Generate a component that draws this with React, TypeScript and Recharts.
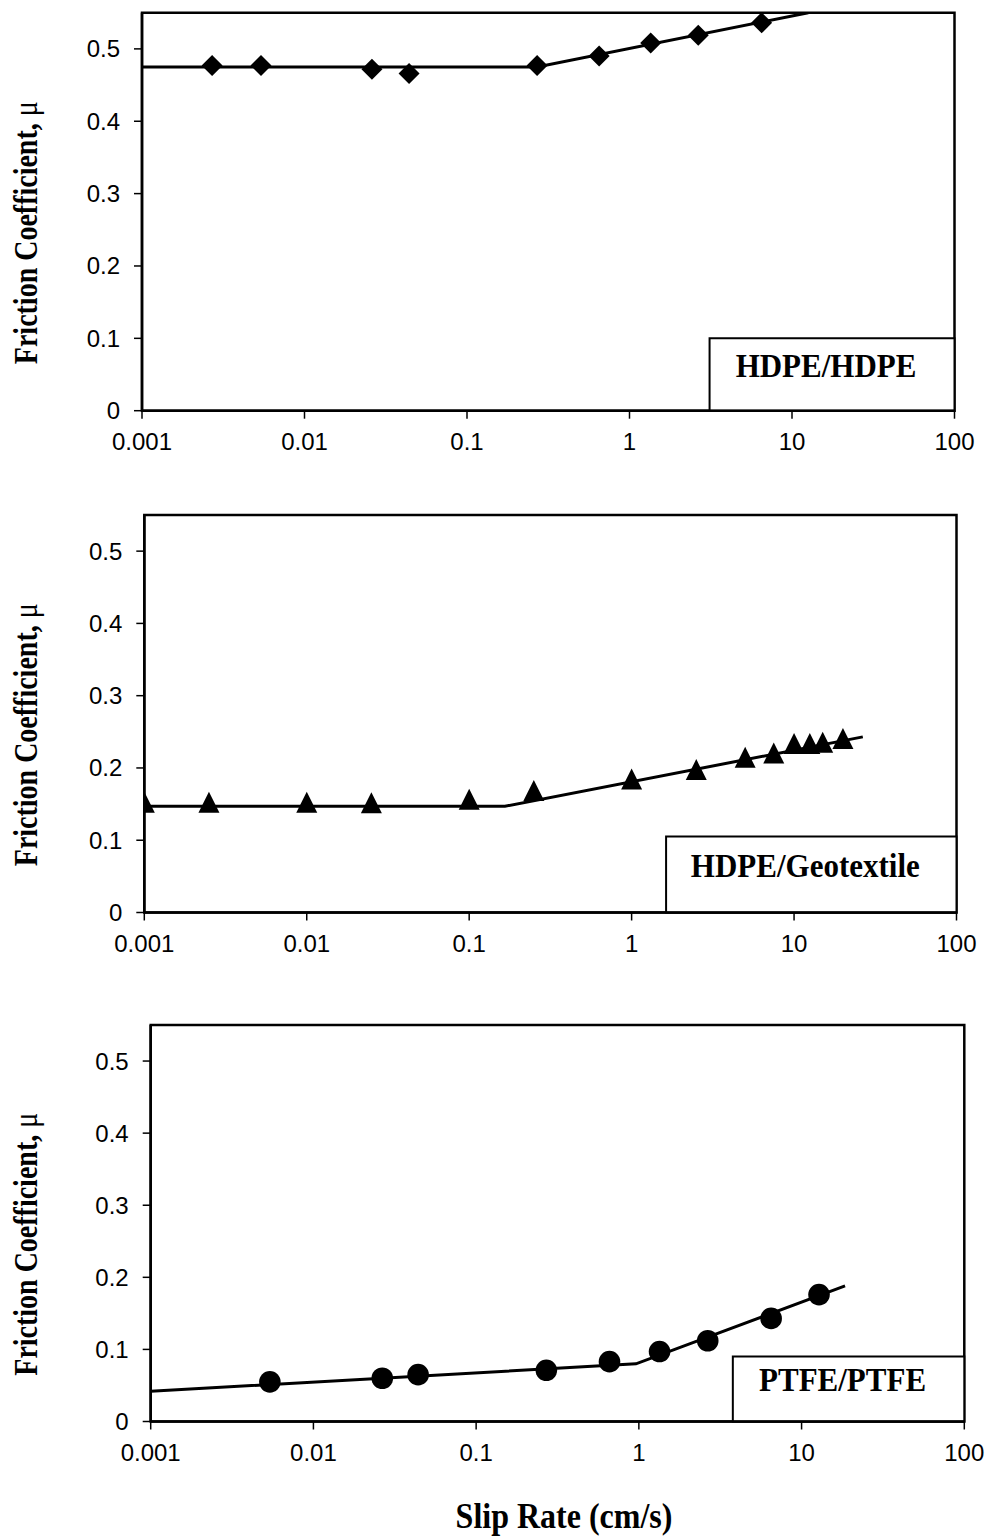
import React from 'react';
import { ScatterChart, Scatter, XAxis, YAxis, ReferenceArea, Label } from 'recharts';

// ---- axis ticks ----
const xTicks = [0.001, 0.01, 0.1, 1, 10, 100];
const yTicks = [0, 0.1, 0.2, 0.3, 0.4, 0.5];

// ---- HDPE/HDPE ----
const hdpeRate = [0.0027, 0.0054, 0.026, 0.044, 0.27, 0.65, 1.35, 2.65, 6.5];
const hdpeMu = [0.477, 0.477, 0.472, 0.466, 0.477, 0.49, 0.508, 0.519, 0.536];
const hdpeFitRate = [0.001, 0.27, 12.6];
const hdpeFitMu = [0.475, 0.475, 0.55];

// ---- HDPE/Geotextile ----
const geoRate = [0.001, 0.0025, 0.01, 0.025, 0.1, 0.25, 1, 2.5, 5, 7.5, 10, 12.5, 15, 20];
const geoMu = [0.152, 0.152, 0.152, 0.151, 0.156, 0.168, 0.184, 0.197, 0.214, 0.22, 0.233, 0.233, 0.235, 0.24];
const geoFitRate = [0.001, 0.166, 26.5];
const geoFitMu = [0.147, 0.147, 0.243];

// ---- PTFE/PTFE ----
const ptfeRate = [0.0054, 0.0265, 0.044, 0.27, 0.66, 1.34, 2.65, 6.5, 12.8];
const ptfeMu = [0.055, 0.06, 0.065, 0.071, 0.083, 0.097, 0.112, 0.143, 0.176];
const ptfeFitRate = [0.001, 0.96, 18.5];
const ptfeFitMu = [0.042, 0.08, 0.188];

// ---- legend labels ----
const panelNames = ['HDPE/HDPE', 'HDPE/Geotextile', 'PTFE/PTFE'];
const legendFromRate = [3.11, 1.63, 3.78];
const legendTopMu = [0.1, 0.105, 0.09];

const toPts = (xs: number[], ys: number[]) => xs.map((x, i) => ({ x, y: ys[i] }));

const SERIF = "'Liberation Serif', 'Times New Roman', serif";
const SANS = "'Liberation Sans', Arial, sans-serif";

const Diamond = (p: any) => (
  <path d={`M${p.cx},${p.cy - 10.5}L${p.cx + 10.5},${p.cy}L${p.cx},${p.cy + 10.5}L${p.cx - 10.5},${p.cy}Z`} fill="#000" />
);
const Triangle = (p: any) => (
  <path d={`M${p.cx},${p.cy - 11}L${p.cx + 10.5},${p.cy + 10}L${p.cx - 10.5},${p.cy + 10}Z`} fill="#000" />
);
const Dot = (p: any) => <circle cx={p.cx} cy={p.cy} r={10.8} fill="#000" />;
const NoShape = () => <g />;

type Cfg = {
  top: number;
  height: number;
  plotTop: number;
  plotBottom: number;
  plotLeft: number;
  plotRight: number;
  points: { x: number; y: number }[];
  fit: { x: number; y: number }[];
  shape: any;
  name: string;
  legendFrom: number;
  legendTop: number;
  xLabel?: boolean;
};

const Panel = ({ cfg }: { cfg: Cfg }) => {
  const xAxisH = 40;
  const relTop = cfg.plotTop - cfg.top;
  const relBottom = cfg.plotBottom - cfg.top;
  const margin = {
    top: relTop,
    right: 989 - cfg.plotRight,
    left: 0,
    bottom: cfg.height - relBottom - xAxisH,
  };
  const yLabelY = (relTop + relBottom) / 2 + 21;
  return (
    <div style={{ position: 'absolute', left: 0, top: cfg.top, width: 989, height: cfg.height }}>
      <ScatterChart width={989} height={cfg.height} margin={margin}>
        <XAxis
          dataKey="x"
          type="number"
          scale="log"
          domain={[0.001, 100]}
          allowDataOverflow
          ticks={xTicks}
          interval={0}
          tickFormatter={(v: number) => String(v)}
          height={xAxisH}
          axisLine={{ stroke: '#000', strokeWidth: 2.5 }}
          tickLine={{ stroke: '#000', strokeWidth: 1.5 }}
          tickSize={8}
          tickMargin={14}
          tick={{ fill: '#000', fontSize: 24, fontFamily: SANS }}
        >
          {cfg.xLabel ? (
            <Label
              content={() => (
                <text
                  transform="translate(564 528) scale(1 1.1)"
                  x={0}
                  y={0}
                  textAnchor="middle"
                  fontFamily={SERIF}
                  fontWeight="bold"
                  fontSize={32}
                  fill="#000"
                >
                  Slip Rate (cm/s)
                </text>
              )}
            />
          ) : null}
        </XAxis>
        <YAxis
          dataKey="y"
          type="number"
          domain={[0, 0.55]}
          allowDataOverflow
          ticks={yTicks}
          interval={0}
          width={cfg.plotLeft}
          axisLine={{ stroke: '#000', strokeWidth: 2.5 }}
          tickLine={{ stroke: '#000', strokeWidth: 1.5 }}
          tickSize={8}
          tickMargin={14}
          tick={{ fill: '#000', fontSize: 24, fontFamily: SANS }}
        >
          <Label
            content={() => (
              <text
                x={0}
                y={0}
                transform={`translate(37 ${yLabelY}) rotate(-90) scale(1 1.18)`}
                textAnchor="middle"
                fontFamily={SERIF}
                fontWeight="bold"
                fontSize={28}
                fill="#000"
              >
                Friction Coefficient, <tspan fontWeight="normal">μ</tspan>
              </text>
            )}
          />
        </YAxis>
        <ReferenceArea
          x1={0.001}
          x2={100}
          y1={0}
          y2={0.55}
          fill="none"
          stroke="#000"
          strokeWidth={2.5}
          fillOpacity={0}
        />
        <ReferenceArea
          x1={cfg.legendFrom}
          x2={100}
          y1={0}
          y2={cfg.legendTop}
          fill="#fff"
          fillOpacity={1}
          stroke="#000"
          strokeWidth={2}
        >
          <Label
            content={(lp: any) => {
              const vb = lp.viewBox || { x: 0, y: 0, width: 0, height: 0 };
              const tx = vb.x + vb.width / 2 - 6;
              const ty = vb.y + vb.height / 2 + 2;
              return (
                <text
                  x={0}
                  y={0}
                  transform={`translate(${tx} ${ty}) scale(1 1.12)`}
                  textAnchor="middle"
                  fontFamily={SERIF}
                  fontWeight="bold"
                  fontSize={31}
                  fill="#000"
                >
                  {cfg.name}
                </text>
              );
            }}
          />
        </ReferenceArea>
        <Scatter
          data={cfg.fit}
          line={{ stroke: '#000', strokeWidth: 3 }}
          shape={NoShape}
          isAnimationActive={false}
        />
        <Scatter data={cfg.points} shape={cfg.shape} isAnimationActive={false} />
      </ScatterChart>
    </div>
  );
};

const panels: Cfg[] = [
  {
    top: 0,
    height: 470,
    plotTop: 12.7,
    plotBottom: 410.7,
    plotLeft: 142,
    plotRight: 954.5,
    points: toPts(hdpeRate, hdpeMu),
    fit: toPts(hdpeFitRate, hdpeFitMu),
    shape: Diamond,
    name: panelNames[0],
    legendFrom: legendFromRate[0],
    legendTop: legendTopMu[0],
  },
  {
    top: 490,
    height: 480,
    plotTop: 515,
    plotBottom: 912.5,
    plotLeft: 144.3,
    plotRight: 956.5,
    points: toPts(geoRate, geoMu),
    fit: toPts(geoFitRate, geoFitMu),
    shape: Triangle,
    name: panelNames[1],
    legendFrom: legendFromRate[1],
    legendTop: legendTopMu[1],
  },
  {
    top: 1000,
    height: 536,
    plotTop: 1025,
    plotBottom: 1421.5,
    plotLeft: 150.7,
    plotRight: 964.3,
    points: toPts(ptfeRate, ptfeMu),
    fit: toPts(ptfeFitRate, ptfeFitMu),
    shape: Dot,
    name: panelNames[2],
    legendFrom: legendFromRate[2],
    legendTop: legendTopMu[2],
    xLabel: true,
  },
];

export default function App() {
  return (
    <div
      style={{
        position: 'absolute',
        left: 0,
        top: 0,
        width: 989,
        height: 1536,
        background: '#fff',
        overflow: 'hidden',
      }}
    >
      {panels.map((p, i) => (
        <Panel key={i} cfg={p} />
      ))}
    </div>
  );
}
